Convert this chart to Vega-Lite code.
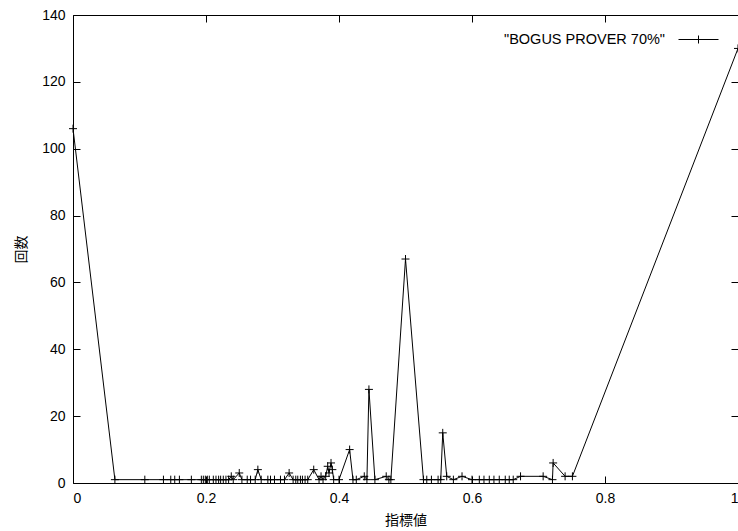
{
  "$schema": "https://vega.github.io/schema/vega-lite/v6.json",
  "width": 665,
  "height": 468,
  "autosize": {"type": "none"},
  "padding": {"left": 73, "top": 15, "right": 0, "bottom": 48},
  "background": "white",
  "config": {
    "view": {"stroke": "black", "strokeWidth": 1},
    "font": "Liberation Sans",
    "axis": {
      "grid": false,
      "domain": false,
      "tickColor": "black",
      "tickSize": -7,
      "labelColor": "black",
      "labelFont": "Liberation Sans",
      "labelFontSize": 14,
      "titleFont": "Noto Sans CJK JP",
      "titleFontSize": 14,
      "titleFontWeight": "normal",
      "titleColor": "black"
    }
  },
  "data": {
    "values": [
      {"x": 0, "n": 106},
      {"x": 0.063, "n": 1},
      {"x": 0.108, "n": 1},
      {"x": 0.136, "n": 1},
      {"x": 0.147, "n": 1},
      {"x": 0.153, "n": 1},
      {"x": 0.16, "n": 1},
      {"x": 0.178, "n": 1},
      {"x": 0.193, "n": 1},
      {"x": 0.196, "n": 1},
      {"x": 0.199, "n": 1},
      {"x": 0.202, "n": 1},
      {"x": 0.205, "n": 1},
      {"x": 0.211, "n": 1},
      {"x": 0.215, "n": 1},
      {"x": 0.219, "n": 1},
      {"x": 0.222, "n": 1},
      {"x": 0.226, "n": 1},
      {"x": 0.23, "n": 1},
      {"x": 0.234, "n": 1},
      {"x": 0.238, "n": 2},
      {"x": 0.241, "n": 1},
      {"x": 0.25, "n": 3},
      {"x": 0.254, "n": 1},
      {"x": 0.262, "n": 1},
      {"x": 0.267, "n": 1},
      {"x": 0.274, "n": 1},
      {"x": 0.278, "n": 4},
      {"x": 0.283, "n": 1},
      {"x": 0.293, "n": 1},
      {"x": 0.297, "n": 1},
      {"x": 0.303, "n": 1},
      {"x": 0.312, "n": 1},
      {"x": 0.318, "n": 1},
      {"x": 0.325, "n": 3},
      {"x": 0.331, "n": 1},
      {"x": 0.335, "n": 1},
      {"x": 0.338, "n": 1},
      {"x": 0.342, "n": 1},
      {"x": 0.345, "n": 1},
      {"x": 0.349, "n": 1},
      {"x": 0.353, "n": 1},
      {"x": 0.362, "n": 4},
      {"x": 0.37, "n": 1},
      {"x": 0.373, "n": 2},
      {"x": 0.376, "n": 1},
      {"x": 0.38, "n": 2},
      {"x": 0.383, "n": 5},
      {"x": 0.385, "n": 3},
      {"x": 0.388, "n": 6},
      {"x": 0.39, "n": 4},
      {"x": 0.392, "n": 1},
      {"x": 0.4, "n": 1},
      {"x": 0.416, "n": 10},
      {"x": 0.421, "n": 1},
      {"x": 0.426, "n": 1},
      {"x": 0.438, "n": 2},
      {"x": 0.442, "n": 1},
      {"x": 0.445, "n": 28},
      {"x": 0.454, "n": 1},
      {"x": 0.471, "n": 2},
      {"x": 0.475, "n": 1},
      {"x": 0.478, "n": 1},
      {"x": 0.5, "n": 67},
      {"x": 0.527, "n": 1},
      {"x": 0.532, "n": 1},
      {"x": 0.539, "n": 1},
      {"x": 0.549, "n": 1},
      {"x": 0.553, "n": 1},
      {"x": 0.556, "n": 15},
      {"x": 0.562, "n": 2},
      {"x": 0.572, "n": 1},
      {"x": 0.585, "n": 2},
      {"x": 0.6, "n": 1},
      {"x": 0.611, "n": 1},
      {"x": 0.618, "n": 1},
      {"x": 0.626, "n": 1},
      {"x": 0.633, "n": 1},
      {"x": 0.641, "n": 1},
      {"x": 0.65, "n": 1},
      {"x": 0.656, "n": 1},
      {"x": 0.662, "n": 1},
      {"x": 0.673, "n": 2},
      {"x": 0.707, "n": 2},
      {"x": 0.721, "n": 1},
      {"x": 0.722, "n": 6},
      {"x": 0.74, "n": 2},
      {"x": 0.751, "n": 2},
      {"x": 1, "n": 130}
    ]
  },
  "layer": [
    {
      "layer": [
        {
          "mark": {"type": "line", "color": "black", "strokeWidth": 1, "clip": true},
          "encoding": {
            "x": {"field": "x", "type": "quantitative", "scale": {"domain": [0, 1], "nice": false},
              "axis": {"title": "指標値", "values": [0, 0.2, 0.4, 0.6, 0.8, 1], "format": "~g", "labelPadding": 15, "titlePadding": 8}},
            "y": {"field": "n", "type": "quantitative", "scale": {"domain": [0, 140], "nice": false},
              "axis": {"title": "回数", "values": [0, 20, 40, 60, 80, 100, 120, 140], "labelPadding": 15, "titlePadding": 13}}
          }
        },
        {
          "mark": {"type": "point", "shape": "M-1,0H1M0,-1V1", "size": 64, "filled": false, "strokeWidth": 1, "opacity": 1},
          "encoding": {
            "x": {"field": "x", "type": "quantitative"},
            "y": {"field": "n", "type": "quantitative"},
            "color": {"datum": "\"BOGUS PROVER 70%\"", "type": "nominal",
              "scale": {"range": ["black"]},
              "legend": {
                "title": null,
                "orient": "none",
                "legendX": 605,
                "legendY": 4,
                "symbolType": "M-1,0H1M-0.2,0H0.2M0,-0.2V0.2",
                "symbolSize": 1600,
                "symbolStrokeWidth": 1,
                "symbolStrokeColor": "black",
                "labelFont": "Liberation Sans",
                "labelFontSize": 14.5,
                "labelLimit": 400,
                "labelColor": "black",
                "labelAlign": "right",
                "labelOffset": -54
              }
            }
          }
        }
      ]
    },
    {
      "mark": {"type": "point", "opacity": 0},
      "encoding": {
        "x": {"field": "x", "type": "quantitative", "axis": {"title": null, "labels": false, "values": [0, 0.2, 0.4, 0.6, 0.8, 1]}},
        "y": {"field": "n", "type": "quantitative", "axis": {"title": null, "labels": false, "values": [0, 20, 40, 60, 80, 100, 120, 140]}}
      }
    }
  ],
  "resolve": {"axis": {"x": "independent", "y": "independent"}}
}
